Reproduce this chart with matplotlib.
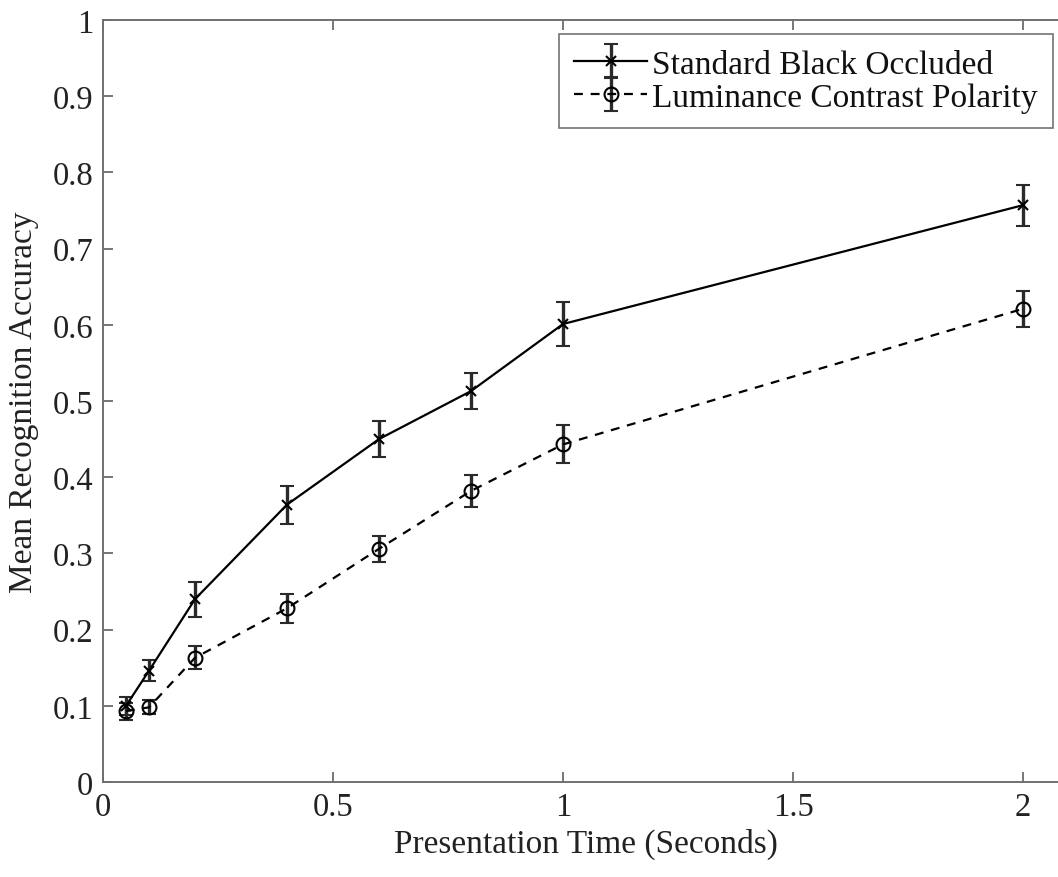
import matplotlib
matplotlib.use("Agg")
import matplotlib.pyplot as plt

times = [0.05, 0.1, 0.2, 0.4, 0.6, 0.8, 1.0, 2.0]
standard = [0.100, 0.146, 0.240, 0.364, 0.450, 0.513, 0.601, 0.757]
standard_err = [0.012, 0.014, 0.023, 0.025, 0.024, 0.024, 0.029, 0.027]
luminance = [0.093, 0.098, 0.163, 0.228, 0.306, 0.382, 0.443, 0.621]
luminance_err = [0.011, 0.009, 0.015, 0.019, 0.017, 0.021, 0.025, 0.024]
xticks = [0, 0.5, 1, 1.5, 2]
xticklabels = ["0", "0.5", "1", "1.5", "2"]
yticks = [0, 0.1, 0.2, 0.3, 0.4, 0.5, 0.6, 0.7, 0.8, 0.9, 1.0]
yticklabels = ["0", "0.1", "0.2", "0.3", "0.4", "0.5", "0.6", "0.7", "0.8", "0.9", "1"]

plt.rcParams['font.family'] = ['Liberation Serif', 'DejaVu Serif']

W, H = 1058, 878
fig = plt.figure(figsize=(W / 100, H / 100), dpi=100)
left, right, top, bottom = 103, 1069, 21, 783
ax = fig.add_axes([left / W, 1 - bottom / H, (right - left) / W, (bottom - top) / H])

ecol = '#2a2a2a'
ax.errorbar(times, standard, yerr=standard_err, color='black', linestyle='-', linewidth=1.6,
            marker='x', markersize=7, markeredgewidth=1.5, ecolor=ecol, elinewidth=2.4,
            capsize=5, capthick=2.4, label='Standard Black Occluded')
ax.errorbar(times, luminance, yerr=luminance_err, color='black', linestyle=(0, (4, 3.5)), linewidth=1.6,
            marker='o', markersize=10, markerfacecolor='none', markeredgewidth=1.5, ecolor=ecol,
            elinewidth=2.4, capsize=5, capthick=2.4, label='Luminance Contrast Polarity')

ax.set_xlim(0, 2.1)
ax.set_ylim(0, 1)
ax.set_xticks(xticks)
ax.set_xticklabels(xticklabels)
ax.set_yticks(yticks)
ax.set_yticklabels(yticklabels)
ax.tick_params(direction='in', length=7, width=1.2, color='#606060', labelsize=23.5,
               top=True, right=True, pad=7, labelcolor='#222222')
for s in ax.spines.values():
    s.set_color('#707070')
    s.set_linewidth(1.4)

ax.set_xlabel('Presentation Time (Seconds)', fontsize=24, color='#222222', labelpad=4)
ax.set_ylabel('Mean Recognition Accuracy', fontsize=24, color='#222222', labelpad=10)

leg = ax.legend(loc='upper right', bbox_to_anchor=(1053 / W, 1 - 35 / H),
                bbox_transform=fig.transFigure, fontsize=24, frameon=True, fancybox=False,
                borderpad=0.45, handlelength=2.2, handletextpad=0.15, labelspacing=0.08,
                borderaxespad=0)
leg.get_frame().set_edgecolor('#505050')
leg.get_frame().set_linewidth(1.2)
for t in leg.get_texts():
    t.set_color('#111111')

fig.savefig('out.png', dpi=100)
